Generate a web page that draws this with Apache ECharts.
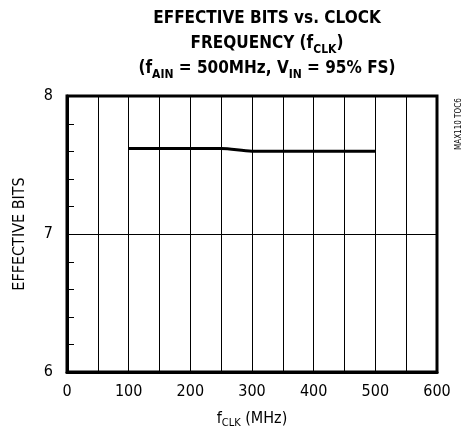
<!DOCTYPE html>
<html><head><meta charset="utf-8">
<script src="https://cdn.jsdelivr.net/npm/echarts@6/dist/echarts.min.js"></script>
<style>html,body{margin:0;padding:0;background:#fff}#c{width:476px;height:434px}</style>
</head><body><div id="c"></div>
<script>
const fclk = [100, 150, 200, 250, 300, 350, 400, 450, 500];
const effBits = [7.62, 7.62, 7.62, 7.62, 7.60, 7.60, 7.60, 7.60, 7.60];
const xTicks = [0, 100, 200, 300, 400, 500, 600];
const yTicks = [6, 7, 8];
const yMinorTicks = [6.2, 6.4, 6.6, 6.8, 7.2, 7.4, 7.6, 7.8];

const F = '"Liberation Sans Narrow", "DejaVu Sans Condensed", Arial, sans-serif';
const chart = echarts.init(document.getElementById('c'));
chart.setOption({
  animation: false,
  title: {
    text: '{t|EFFECTIVE BITS vs. CLOCK}\n{t|FREQUENCY (f}{s|CLK}{t|)}\n{t|(f}{s|AIN}{t| = 500MHz, V}{s|IN}{t| = 95% FS)}',
    left: 262, top: 1, textAlign: 'center',
    textStyle: {
      rich: {
        t: {fontFamily: F, fontWeight: 'bold', fontSize: 17, color: '#000', lineHeight: 25},
        s: {fontFamily: F, fontWeight: 'bold', fontSize: 12, color: '#000', lineHeight: 25, verticalAlign: 'bottom', padding: [6, 0, 0, 0]}
      }
    }
  },
  grid: {left: 67, right: 39, top: 96, bottom: 56, show: true, borderColor: '#000', borderWidth: 3},
  xAxis: {
    type: 'value', min: 0, max: 600, interval: 50,
    axisLine: {show: true, lineStyle: {color: '#000', width: 3}},
    axisTick: {show: false},
    splitLine: {show: true, lineStyle: {color: '#000', width: 1}},
    axisLabel: {
      color: '#000', fontFamily: F, fontSize: 16, margin: 12,
      formatter: v => xTicks.includes(v) ? String(v) : ''
    },
    name: '{f|f}{s|CLK}{f| (MHz)}', nameLocation: 'middle', nameGap: 37,
    nameTextStyle: {
      rich: {
        f: {fontFamily: F, fontSize: 16, color: '#000', lineHeight: 20},
        s: {fontFamily: F, fontSize: 11, color: '#000', lineHeight: 20, verticalAlign: 'bottom', padding: [5, 0, 0, 0]}
      }
    }
  },
  yAxis: {
    type: 'value', min: 6, max: 8, interval: 1,
    axisLine: {show: true, lineStyle: {color: '#000', width: 3}},
    axisTick: {show: false},
    splitLine: {show: true, lineStyle: {color: '#000', width: 1}},
    axisLabel: {color: '#000', fontFamily: F, fontSize: 16, margin: 14,
      formatter: v => yTicks.includes(v) ? String(v) : ''},
    name: 'EFFECTIVE BITS', nameLocation: 'middle', nameGap: 39,
    nameTextStyle: {fontFamily: F, fontSize: 16, color: '#000'}
  },
  graphic: [{
    type: 'text', x: 455, y: 150, rotation: Math.PI / 2,
    style: {text: 'MAX110 TOC6', fontFamily: F, fontSize: 8, fill: '#000'}
  }],
  series: [{
    type: 'line', data: fclk.map((x, i) => [x, effBits[i]]),
    showSymbol: false, smooth: 0.3,
    lineStyle: {color: '#000', width: 3}
  }, {
    type: 'custom', silent: true,
    data: yMinorTicks.map(v => [0, v]),
    renderItem: (params, api) => {
      const p = api.coord([api.value(0), api.value(1)]);
      const y = Math.round(p[1]) + 0.5;
      return {type: 'line', shape: {x1: p[0], y1: y, x2: p[0] + 7, y2: y},
        style: {stroke: '#000', lineWidth: 1}};
    }
  }]
});
</script></body></html>
